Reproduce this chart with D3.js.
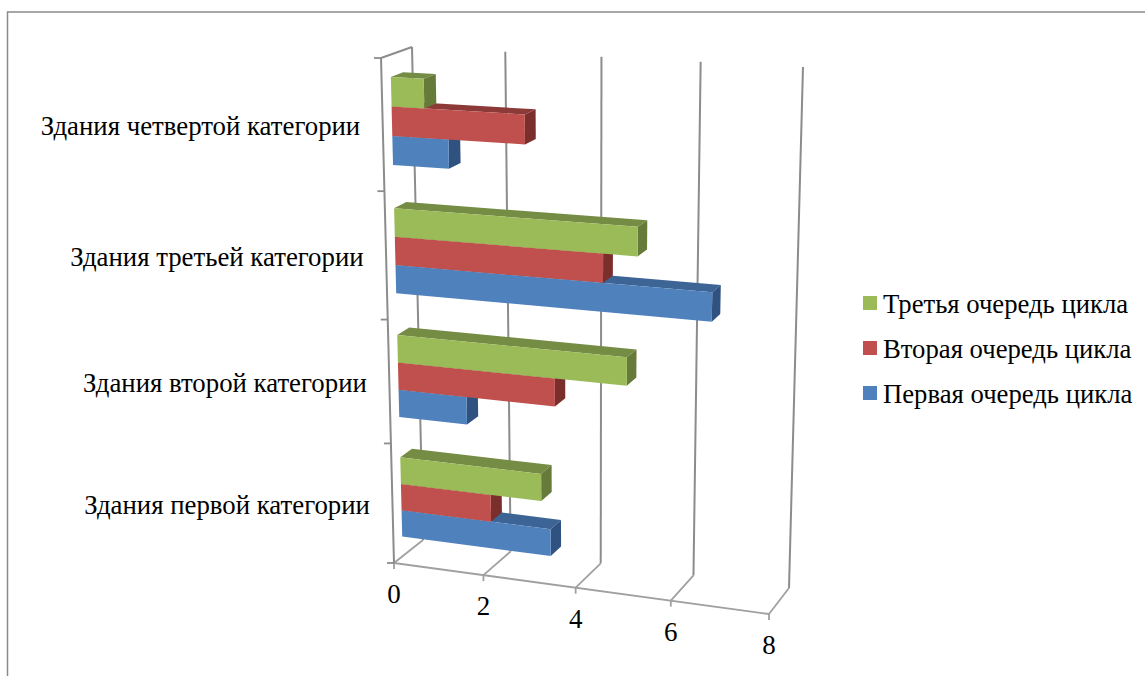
<!DOCTYPE html>
<html lang="ru">
<head>
<meta charset="utf-8">
<style>
  html, body { margin: 0; padding: 0; background: #fff; overflow: hidden; }
  text { font-family: "Liberation Serif", serif; fill: #000; }
</style>
</head>
<body>
<script src="https://d3js.org/d3.v7.min.js"></script>
<script>
// chart data
var categories = ["Здания первой категории", "Здания второй категории", "Здания третьей категории", "Здания четвертой категории"];
var seriesNames = ["Первая очередь цикла", "Вторая очередь цикла", "Третья очередь цикла"];
var firstStage = [3.3, 1.5, 6.6, 1.2];
var secondStage = [2, 3.4, 4.4, 2.8];
var thirdStage = [3.1, 4.9, 5.1, 0.7];
var seriesValues = [firstStage, secondStage, thirdStage];
var valueTicks = [0, 2, 4, 6, 8];

var colors = ["#4f81bd", "#c0504d", "#9bbb59"];
var topColors = ["#3c6595", "#8c3a38", "#748c43"];
var sideColors = ["#2f5280", "#7b2f2d", "#667b3a"];

var width = 1145, height = 676;

var svg = d3.select("body").append("svg")
  .attr("width", width)
  .attr("height", height)
  .style("display", "block");

// outer frame (only top and left are in the crop)
svg.append("path")
  .attr("d", "M7.5,676V12H1145")
  .attr("fill", "none")
  .attr("stroke", "#8a8a8a")
  .attr("stroke-width", 1.5);

// map the unit square to a quad, this is the 3d look of the plot box
function quad(p) {
  var dx1 = p[1][0] - p[2][0], dx2 = p[3][0] - p[2][0], sx = p[0][0] - p[1][0] + p[2][0] - p[3][0];
  var dy1 = p[1][1] - p[2][1], dy2 = p[3][1] - p[2][1], sy = p[0][1] - p[1][1] + p[2][1] - p[3][1];
  var det = dx1 * dy2 - dx2 * dy1;
  var g = (sx * dy2 - dx2 * sy) / det;
  var h = (dx1 * sy - sx * dy1) / det;
  var a = p[1][0] - p[0][0] + g * p[1][0], b = p[3][0] - p[0][0] + h * p[3][0];
  var d = p[1][1] - p[0][1] + g * p[1][1], e = p[3][1] - p[0][1] + h * p[3][1];
  return function (u, v) {
    var w = g * u + h * v + 1;
    return [(a * u + b * v + p[0][0]) / w, (d * u + e * v + p[0][1]) / w];
  };
}

// corners: top left, top right, bottom right, bottom left
var frontPlane = quad([[381, 58], [785, 78], [769, 614], [394, 563]]);
var backPlane = quad([[412, 47], [803, 67], [789, 588], [423, 540]]);

var x = d3.scaleLinear().domain([0, 8]).range([0, 1]);
var y = d3.scaleBand().domain(categories).range([1, 0]);
var s = d3.scaleBand().domain(seriesNames).range([y.bandwidth(), 0]).paddingOuter(0.75);

var barFront = 0.3, barBack = 0.7;

function project(value, v, depth) {
  var f = frontPlane(x(value), v), b = backPlane(x(value), v);
  return [f[0] + (b[0] - f[0]) * depth, f[1] + (b[1] - f[1]) * depth];
}

var line = d3.line();

function stroke(points, color, w) {
  svg.append("path")
    .attr("d", line(points))
    .attr("fill", "none")
    .attr("stroke", color)
    .attr("stroke-width", w);
}

function face(points, color) {
  svg.append("path")
    .attr("d", line(points) + "Z")
    .attr("fill", color);
}

// back wall lines
valueTicks.forEach(function (t) {
  stroke([project(t, 0, 1), project(t, 1, 1)], "#8c8c8c", 2);
  stroke([project(t, 1, 1), project(t, 1, 0)], "#a0a0a0", 1.8);
  var p = project(t, 1, 0);
  stroke([p, [p[0], p[1] + 6]], "#a0a0a0", 1.8);
});

// front floor edge, left wall
stroke([project(0, 1, 0), project(8, 1, 0)], "#a0a0a0", 1.8);
stroke([project(0, 0, 0), project(0, 1, 0)], "#8c8c8c", 2);
stroke([project(0, 0, 0), project(0, 0, 1)], "#8c8c8c", 2);

// category ticks
d3.range(0, 5).forEach(function (i) {
  var p = project(0, i / 4, 0);
  stroke([[p[0] - 7, p[1]], p], "#8c8c8c", 1.8);
});

// bars, lower series first so the upper one covers it
categories.forEach(function (cat, c) {
  seriesNames.forEach(function (name, i) {
    var v0 = y(cat) + s(name), v1 = v0 + s.bandwidth();
    var val = seriesValues[i][c];
    face([project(0, v0, barFront), project(val, v0, barFront), project(val, v0, barBack), project(0, v0, barBack)], topColors[i]);
    face([project(val, v0, barFront), project(val, v1, barFront), project(val, v1, barBack), project(val, v0, barBack)], sideColors[i]);
    face([project(0, v0, barFront), project(val, v0, barFront), project(val, v1, barFront), project(0, v1, barFront)], colors[i]);
  });
});

// value labels
valueTicks.forEach(function (t) {
  var p = project(t, 1, 0);
  svg.append("text")
    .attr("x", p[0])
    .attr("y", p[1] + 40)
    .attr("text-anchor", "middle")
    .attr("font-size", 27)
    .text(t);
});

// category labels
categories.forEach(function (cat) {
  var p = project(0, y(cat) + y.bandwidth() / 2, 0);
  svg.append("text")
    .attr("x", p[0] - 22.5)
    .attr("y", p[1] + 10)
    .attr("text-anchor", "end")
    .attr("font-size", 26.8)
    .text(cat);
});

// legend, third stage on top
var legendY = d3.scalePoint().domain(seriesNames).range([393, 303]);
seriesNames.forEach(function (name, i) {
  svg.append("rect")
    .attr("x", 863)
    .attr("y", legendY(name) - 7)
    .attr("width", 14)
    .attr("height", 14)
    .attr("fill", colors[i]);
  svg.append("text")
    .attr("x", 883)
    .attr("y", legendY(name) + 9.5)
    .attr("font-size", 26.7)
    .text(name);
});
</script>
</body>
</html>
